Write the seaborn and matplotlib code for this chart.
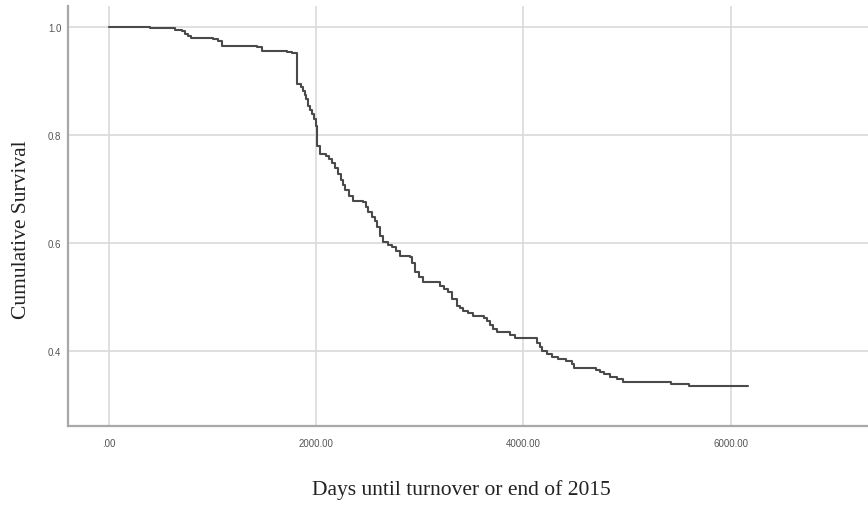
import matplotlib
matplotlib.use("Agg")
import matplotlib.pyplot as plt
from matplotlib.ticker import FuncFormatter, FixedLocator
import seaborn as sns
import pandas as pd

# Kaplan-Meier estimate: event times (days) and survival after each step
days = [0, 400, 526, 641, 709, 738, 767, 796, 1008, 1056, 1095, 1432, 1480,
        1721, 1770, 1818, 1856, 1876, 1895, 1909, 1924, 1943, 1960, 1982,
        2001, 2011, 2040, 2097, 2126, 2155, 2184, 2213, 2242, 2261, 2281,
        2319, 2358, 2454, 2483, 2502, 2541, 2570, 2589, 2618, 2647, 2695,
        2734, 2772, 2811, 2907, 2927, 2956, 2994, 3033, 3197, 3235, 3274,
        3312, 3358, 3390, 3418, 3467, 3515, 3621, 3650, 3679, 3711, 3743,
        3872, 3920, 4132, 4161, 4180, 4229, 4277, 4335, 4412, 4467, 4489,
        4701, 4740, 4778, 4836, 4904, 4961, 5424, 5598, 6170]
survival = [1.000, 0.9993, 0.9981, 0.9959, 0.9937, 0.9885, 0.9839, 0.9811,
            0.9778, 0.9752, 0.9654, 0.9630, 0.9567, 0.9543, 0.9519, 0.8950,
            0.8889, 0.8826, 0.8746, 0.8672, 0.8548, 0.8469, 0.8394, 0.8302,
            0.8172, 0.7802, 0.7654, 0.7617, 0.7561, 0.7487, 0.7394, 0.7283,
            0.7172, 0.7080, 0.6987, 0.6881, 0.6789, 0.6759, 0.6672, 0.6580,
            0.6487, 0.6413, 0.6302, 0.6141, 0.6019, 0.5969, 0.5926, 0.5857,
            0.5770, 0.5741, 0.5635, 0.5463, 0.5376, 0.5278, 0.5215, 0.5154,
            0.5093, 0.4969, 0.4844, 0.4802, 0.4752, 0.4709, 0.4659, 0.4617,
            0.4567, 0.4487, 0.4413, 0.4352, 0.4302, 0.4246, 0.4154, 0.4080,
            0.4006, 0.3950, 0.3889, 0.3857, 0.3826, 0.3765, 0.3685, 0.3654,
            0.3622, 0.3570, 0.3519, 0.3478, 0.3437, 0.3394, 0.3352, 0.3352]

x_ticks = [0, 2000, 4000, 6000]
y_ticks = [0.4, 0.6, 0.8, 1.0]
x_label = "Days until turnover or end of 2015"
y_label = "Cumulative Survival"

df = pd.DataFrame({"days": days, "survival": survival})

sns.set_style("white")
plt.rcParams["font.family"] = ["Liberation Sans", "DejaVu Sans"]

fig = plt.figure(figsize=(8.68, 5.06), dpi=100)
ax = fig.add_axes([0.0787, 0.1567, 0.9213, 0.8289])

sns.lineplot(data=df, x="days", y="survival", estimator=None, sort=False,
             drawstyle="steps-post", color="#4a4a4a", linewidth=1.5, ax=ax,
             zorder=3)

ax.set_xlim(-388, 7324)
ax.set_ylim(0.262, 1.039)

ax.xaxis.set_major_locator(FixedLocator(x_ticks))
ax.yaxis.set_major_locator(FixedLocator(y_ticks))
ax.xaxis.set_major_formatter(
    FuncFormatter(lambda v, p: ".00" if v == 0 else f"{v:.2f}"))
ax.yaxis.set_major_formatter(FuncFormatter(lambda v, p: f"{v:.1f}"))

ax.grid(True, color="#dadada", linewidth=1.2, zorder=0)
ax.tick_params(axis="both", length=0, labelsize=7, colors="#555555")
ax.tick_params(axis="x", pad=9)
ax.tick_params(axis="y", pad=5)

for side in ("top", "right"):
    ax.spines[side].set_visible(False)
for side in ("left", "bottom"):
    ax.spines[side].set_color("#a8a8a8")
    ax.spines[side].set_linewidth(1.6)

serif = ["Liberation Serif", "DejaVu Serif"]
ax.set_xlabel(x_label, family=serif, fontsize=15.5, color="#222222")
ax.set_ylabel(y_label, family=serif, fontsize=15.5, color="#222222")
# place the axis titles in axes-fraction coordinates
ax.xaxis.set_label_coords(0.492, -0.151)
ax.xaxis.label.set_va("center")
ax.yaxis.set_label_coords(-0.058, 0.469)
ax.yaxis.label.set_va("center")

fig.savefig("out.png", dpi=100)
